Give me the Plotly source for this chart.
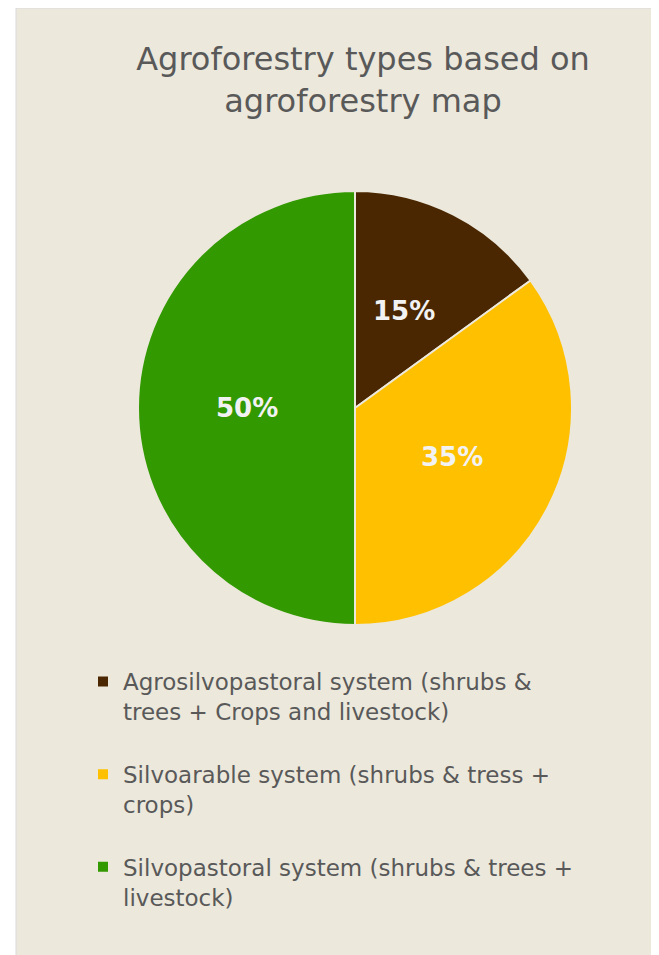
import math
import plotly.graph_objects as go

categories = [
    "Agrosilvopastoral system (shrubs &<br>trees + Crops and livestock)",
    "Silvoarable system (shrubs & tress +<br>crops)",
    "Silvopastoral system (shrubs & trees +<br>livestock)",
]
values = [15, 35, 50]
colors = ["#4A2700", "#FFC000", "#339900"]
title_text = "Agroforestry types based on<br>agroforestry map"

W, H = 659, 955
BG = "#ECE8DC"

# pie geometry (pixels, paper coords from top-left)
CX, CY, R = 347, 400, 217
LABEL_FRAC = 0.5

fig = go.Figure()
fig.add_trace(go.Pie(
    labels=[c + "<br> " for c in categories],
    values=values,
    sort=False,
    direction="clockwise",
    rotation=0,
    marker=dict(colors=colors, line=dict(color=BG, width=2)),
    textinfo="none",
    domain=dict(x=[(CX - R) / W, (CX + R) / W], y=[1 - (CY + R) / H, 1 - (CY - R) / H]),
    hoverinfo="label+percent",
))

# percentage labels placed at half radius along each slice's mid-angle
total = sum(values)
annotations = []
cum = 0
for v in values:
    mid = (cum + v / 2) / total * 2 * math.pi
    cum += v
    px = CX + LABEL_FRAC * R * math.sin(mid)
    py = CY - LABEL_FRAC * R * math.cos(mid)
    annotations.append(dict(
        x=px / W, y=1 - py / H, xref="paper", yref="paper",
        text=f"{round(v / total * 100)}%", showarrow=False,
        xanchor="center", yanchor="middle",
        font=dict(family="DejaVu Sans", size=26, color="#F2F2F2", weight="bold"),
    ))

fig.update_layout(
    width=W, height=H,
    margin=dict(l=0, r=0, t=0, b=0),
    paper_bgcolor="white",
    shapes=[dict(type="rect", xref="paper", yref="paper",
                 x0=8 / W, x1=1.01, y0=-0.01, y1=1,
                 fillcolor=BG, line=dict(color="#D9D9D9", width=1), layer="below")],
    annotations=annotations,
    title=dict(text=title_text, x=355 / W, xanchor="center", y=1 - 62 / H, yanchor="top",
               font=dict(family="DejaVu Sans", size=32, color="#595959")),
    legend=dict(x=75 / W, y=1 - 652 / H, xanchor="left", yanchor="top",
                font=dict(family="DejaVu Sans", size=23, color="#595959"),
                bgcolor="rgba(0,0,0,0)", valign="top", itemwidth=30,
                tracegroupgap=0),
    showlegend=True,
)

fig.write_html("out.html")
